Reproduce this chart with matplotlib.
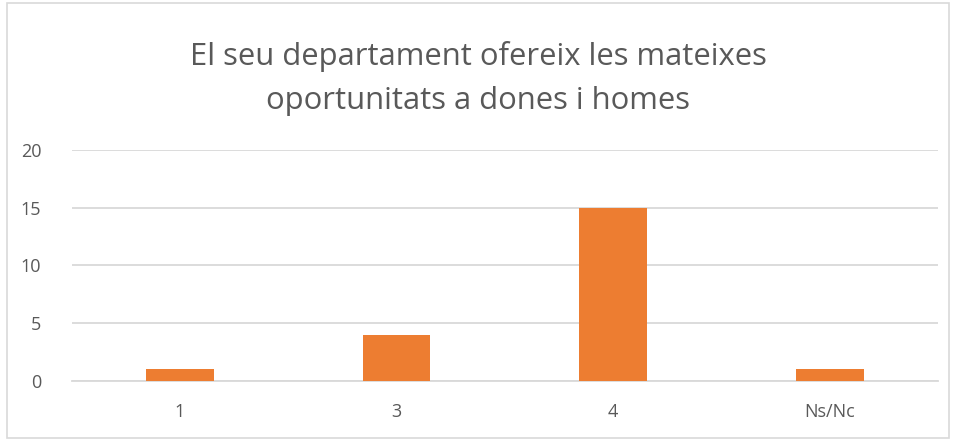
import matplotlib
matplotlib.use("Agg")
import matplotlib.pyplot as plt
from matplotlib.patches import Rectangle

# dades del gràfic
categories = ["1", "3", "4", "Ns/Nc"]
values = [1, 4, 15, 1]
yticks = [0, 5, 10, 15, 20]
title = "El seu departament ofereix les mateixes\noportunitats a dones i homes"

plt.rcParams['font.family'] = ['Open Sans', 'DejaVu Sans']

text_color = "#595959"
grid_color = "#D9D9D9"
bar_color = "#ED7D31"

fig = plt.figure(figsize=(9.56, 4.41), dpi=100)
ax = fig.add_axes([0.075, 0.136, 0.906, 0.524])

x = range(len(categories))
ax.bar(x, values, width=0.314, color=bar_color, zorder=3)

ax.set_xlim(-0.5, len(categories) - 0.5)
ax.set_ylim(0, 20)
ax.set_yticks(yticks)
ax.set_xticks(list(x))
ax.set_xticklabels(categories)
ax.yaxis.grid(True, color=grid_color, linewidth=1.3, zorder=0)
ax.tick_params(axis='both', length=0, labelsize=13, labelcolor=text_color)
ax.tick_params(axis='x', pad=16)
ax.tick_params(axis='y', pad=22)
for side in ['top', 'right', 'left']:
    ax.spines[side].set_visible(False)
ax.spines['bottom'].set_color(grid_color)
ax.spines['bottom'].set_linewidth(1.3)

fig.text(0.5, 0.822, title, ha='center', va='center', fontsize=22.3,
         color=text_color, linespacing=1.6)

# marc del gràfic
fig.patches.append(Rectangle((0.007, 0.007), 0.986, 0.986, transform=fig.transFigure,
                             fill=False, edgecolor=grid_color, linewidth=1.2))

fig.savefig("out.png", dpi=100)
